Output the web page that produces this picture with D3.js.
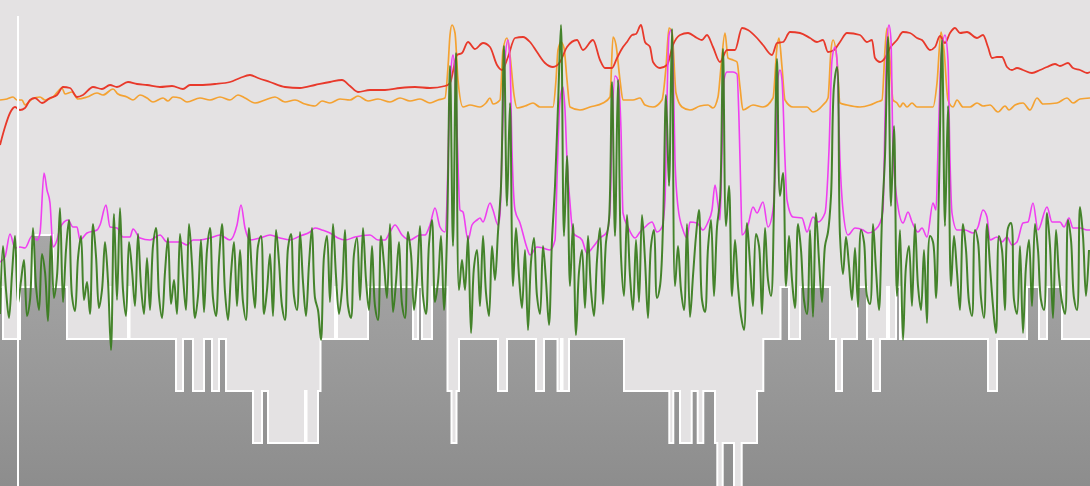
<!DOCTYPE html>
<html>
<head>
<meta charset="utf-8">
<script src="https://cdn.jsdelivr.net/npm/d3@7"></script>
<style>
body{margin:0;background:#e4e2e3;overflow:hidden;}
svg{display:block;}
</style>
</head>
<body>
<div id="chart"></div>
<script>

// hypnogram: start time of each stage, and its depth (0 = top, 5 = deepest)
var stageTimes  = [0,3,20,33,53,67,110,111.5,128,129.5,176,183,193,204,212,219,226,253,262,268,305,306.5,318,320.5,335,337,368,413,418,422,432,447.5,451.5,456.5,459,498,507,536,544,557.5,561,562.5,569,624,669.3,673.3,680,691.7,697.7,703.3,715,717.3,722.7,734,741.7,757,763.3,780.5,789,800,830,836,842,857,867,873,880,887,889,896,900,988,997,1027,1039,1047,1062,1090];
var stageLevels = [1,2,1,0,1,2,1,2,1,2,3,2,3,2,3,2,3,4,3,4,3,4,3,2,1,2,1,2,1,2,1,3,4,3,2,3,2,3,2,3,2,3,2,3,4,3,4,3,4,3,4,5,4,5,4,3,2,1,2,1,2,3,2,1,2,3,2,1,2,1,2,3,2,1,2,1,2,2];

// red trace [time, value]
var redData = [[0,341],[5,359],[10,373],[15,379],[20,376],[25,378],[30,386],[35,388],[42,383],[50,388],[57,391],[63,399],[70,398],[77,389],[83,391],[93,399],[102,397],[110,401],[117,399],[128,404],[137,402],[147,401],[160,399],[172,400],[183,397],[190,401],[200,401],[215,402],[230,404],[240,408],[250,411],[258,408],[270,404],[285,399],[300,398],[315,401],[330,404],[342,406],[350,400],[358,394],[370,396],[385,396],[400,398],[415,399],[430,398],[445,400],[450,403],[457,431],[462,433],[468,444],[475,437],[483,443],[490,439],[497,421],[502,416],[508,429],[515,448],[523,449],[530,444],[537,434],[545,423],[553,419],[560,424],[567,439],[577,446],[583,436],[593,446],[600,426],[605,418],[612,418],[617,428],[623,439],[627,444],[632,451],[636,452],[641,461],[645,444],[650,439],[653,424],[660,418],[667,421],[673,441],[680,451],[688,453],[697,448],[702,446],[707,451],[713,439],[720,424],[727,436],[735,436],[742,458],[748,456],[757,448],[763,441],[772,431],[777,443],[783,444],[790,454],[800,453],[810,448],[817,444],[823,446],[828,434],[834,436],[840,444],[847,453],[860,451],[867,444],[872,446],[875,428],[880,424],[885,428],[890,438],[897,446],[903,454],[910,453],[917,448],[922,446],[930,436],[935,439],[940,450],[945,443],[950,453],[955,458],[960,453],[967,454],[977,448],[983,451],[988,439],[992,428],[997,429],[1002,429],[1007,419],[1012,416],[1017,418],[1023,416],[1032,413],[1040,416],[1047,419],[1055,422],[1060,420],[1068,423],[1073,418],[1080,416],[1087,413],[1090,414]];

// orange trace [time, value]
var orangeData = [[0,386],[7,387],[13,389],[17,386],[22,386],[25,381],[32,387],[40,389],[45,386],[53,389],[62,398],[65,392],[72,394],[78,387],[87,389],[97,393],[103,391],[113,397],[118,392],[127,389],[133,386],[140,391],[147,388],[153,384],[163,388],[168,385],[173,389],[180,388],[187,384],[200,388],[210,386],[220,389],[230,386],[238,391],[245,388],[255,383],[265,386],[275,389],[285,384],[295,386],[305,382],[315,380],[322,385],[330,383],[340,387],[350,386],[358,390],[368,385],[378,387],[390,384],[400,388],[410,385],[420,387],[430,383],[438,386],[445,388],[448,419],[450,451],[452,461],[455,453],[458,406],[463,379],[470,381],[480,379],[486,383],[490,388],[493,382],[500,386],[503,436],[507,448],[510,431],[514,391],[517,378],[525,380],[533,383],[540,379],[553,379],[556,406],[558,436],[561,444],[564,438],[567,406],[570,379],[580,376],[590,379],[603,383],[610,389],[613,449],[616,441],[620,406],[623,386],[633,386],[640,388],[645,381],[653,379],[662,386],[666,419],[669,458],[672,454],[676,393],[682,379],[690,376],[700,380],[708,381],[713,378],[718,389],[721,419],[725,453],[728,428],[733,426],[737,424],[740,399],[743,376],[753,381],[763,379],[773,388],[777,439],[779,448],[782,419],[785,386],[793,379],[807,379],[813,374],[823,381],[828,388],[831,436],[833,446],[837,426],[840,383],[847,381],[860,379],[870,381],[877,384],[882,386],[885,436],[887,458],[890,426],[893,386],[897,383],[900,379],[903,383],[907,379],[912,383],[917,379],[933,379],[937,403],[941,454],[944,436],[948,386],[953,379],[957,386],[963,379],[970,379],[977,383],[983,380],[990,381],[998,374],[1005,380],[1009,376],[1015,381],[1023,383],[1030,376],[1037,388],[1043,382],[1057,383],[1067,388],[1073,383],[1080,387],[1090,388]];

// magenta trace [time, value]
var magentaData = [[0,224],[5,229],[10,252],[15,238],[20,239],[25,238],[32,250],[37,246],[40,253],[44,313],[47,296],[50,283],[53,239],[57,246],[60,258],[68,266],[73,259],[77,259],[80,246],[87,253],[97,256],[100,261],[106,281],[110,259],[117,258],[123,249],[130,249],[133,257],[140,248],[150,246],[160,251],[167,244],[180,244],[187,241],[193,246],[200,246],[210,248],[220,251],[230,246],[237,261],[241,281],[245,258],[250,246],[260,248],[270,251],[280,248],[290,246],[300,250],[310,254],[315,258],[322,256],[330,253],[338,248],[345,246],[355,249],[370,251],[378,246],[385,246],[390,254],[395,261],[402,251],[410,246],[420,251],[425,251],[430,261],[435,278],[440,259],[445,254],[447,286],[449,366],[451,416],[453,431],[455,411],[457,356],[460,276],[463,274],[468,246],[472,261],[477,266],[480,268],[483,264],[490,283],[493,276],[498,261],[500,271],[502,336],[505,426],[508,446],[510,426],[512,336],[515,276],[520,263],[527,238],[530,231],[537,239],[543,238],[550,236],[555,246],[557,306],[560,386],[563,399],[565,376],[567,326],[570,283],[573,253],[582,246],[587,233],[593,239],[600,248],[607,254],[610,276],[612,356],[615,410],[618,406],[621,356],[623,273],[628,259],[635,248],[640,254],[645,259],[652,264],[657,254],[662,259],[665,286],[667,386],[669,451],[671,456],[673,426],[675,326],[678,279],[683,256],[687,248],[690,264],[697,263],[703,256],[708,264],[712,276],[715,301],[718,281],[720,266],[722,336],[724,406],[727,414],[733,414],[737,412],[739,366],[741,286],[742,251],[748,261],[753,279],[757,273],[763,284],[768,259],[773,276],[776,336],[778,408],[780,416],[782,406],[785,326],[787,286],[793,269],[802,268],[807,254],[813,269],[818,264],[825,273],[829,336],[832,426],[835,439],[837,426],[840,326],[843,276],[848,251],[855,258],[863,256],[868,253],[875,256],[880,263],[883,276],[885,366],[887,446],[889,461],[891,446],[893,336],[898,279],[903,263],[908,274],[912,264],[918,254],[922,258],[927,249],[933,283],[936,276],[938,336],[941,426],[945,451],[948,426],[950,326],[952,273],[957,256],[965,256],[973,253],[978,259],[983,276],[987,269],[990,246],[997,249],[1002,244],[1007,249],[1012,241],[1017,244],[1023,263],[1028,264],[1033,283],[1038,256],[1047,279],[1052,264],[1060,264],[1064,259],[1069,268],[1073,258],[1080,258],[1087,256],[1090,256]];

// green trace, one sample every greenStep time units
var greenStart = 0, greenStep = 3;
var greenValues = [
172,240,196,168,212,250,182,205,226,170,186,258,200,176,232,214,165,250,188,210,
278,184,236,266,190,175,228,250,186,204,172,262,230,178,196,244,205,136,272,186,
278,196,170,244,216,180,252,200,172,228,176,240,258,190,168,214,248,182,206,172,
252,210,176,262,222,168,190,246,174,236,258,188,170,226,262,194,166,212,244,180,
236,184,166,258,212,178,240,250,172,196,232,170,256,224,180,166,238,252,190,176,
254,204,170,222,258,188,176,146,230,250,184,262,210,172,196,256,180,168,232,248,
186,258,206,176,240,180,166,250,222,188,262,174,204,244,182,168,254,232,176,206,260,190,172,242,266,184,204,250,176,
250,
420,240,433,196,
226,196,250,153,219,236,180,250,193,170,240,206,254,
300,440,280,383,200,
258,210,178,236,156,224,248,190,172,240,205,161,246,
300,380,461,250,330,
200,262,151,214,236,178,250,196,170,226,258,182,244,266,
404,250,406,230,
190,271,210,176,246,184,271,226,168,240,256,188,200,
260,391,300,457,200,
240,196,176,262,169,210,250,276,186,174,238,266,190,259,
286,437,260,300,190,
246,200,170,156,263,222,180,252,240,172,258,206,190,
280,427,290,313,200,
250,206,178,262,236,186,172,256,169,273,226,184,240,254,
290,400,419,250,
212,249,220,186,238,179,256,244,190,182,262,216,176,268,
330,449,280,360,190,
256,146,220,240,180,262,200,176,236,163,250,244,188,300,
446,260,380,200,
250,214,176,262,236,184,170,256,244,188,168,262,220,180,153,250,236,176,258,263,
186,172,240,153,220,246,180,262,236,186,176,273,240,168,256,210,184,172,266,246,
188,176,279,250,190,236
];

// cursor position
var cursorTime = 18;

var width = 1090, height = 486;

var svg = d3.select("#chart").append("svg")
	.attr("width", width).attr("height", height);

svg.append("rect").attr("width", width).attr("height", height).attr("fill", "#e4e2e3");

var x = d3.scaleLinear().domain([0, 1090]).range([0, width]);
var y = d3.scaleLinear().domain([0, 486]).range([height, 0]);
var yStage = d3.scaleLinear().domain([0, 5]).range([235, 495]);

// gradient for the stage area
var grad = svg.append("defs").append("linearGradient")
	.attr("id", "stageGrad").attr("gradientUnits", "userSpaceOnUse")
	.attr("x1", 0).attr("x2", 0).attr("y1", 235).attr("y2", height);
grad.append("stop").attr("offset", "0%").attr("stop-color", "#a7a7a7");
grad.append("stop").attr("offset", "100%").attr("stop-color", "#8d8d8d");

var stages = stageTimes.map((t, i) => ({t: t, level: stageLevels[i]}));

var stageArea = d3.area()
	.curve(d3.curveStepAfter)
	.x(d => x(d.t))
	.y0(height + 20)
	.y1(d => yStage(d.level));

var stageLine = d3.line()
	.curve(d3.curveStepAfter)
	.x(d => x(d.t))
	.y(d => yStage(d.level));

svg.append("path").datum(stages)
	.attr("d", stageArea)
	.attr("fill", "url(#stageGrad)");

svg.append("path").datum(stages)
	.attr("d", stageLine)
	.attr("fill", "none")
	.attr("stroke", "#ffffff")
	.attr("stroke-width", 2);

function trace(data, color, w, op, curve) {
	var line = d3.line()
		.curve(curve)
		.x(d => x(d[0]))
		.y(d => y(d[1]));
	svg.append("path").datum(data)
		.attr("d", line)
		.attr("fill", "none")
		.attr("stroke", color)
		.attr("stroke-width", w)
		.attr("stroke-opacity", op)
		.attr("stroke-linejoin", "round");
}

trace(orangeData, "#f4a232", 1.7, 1, d3.curveMonotoneX);
trace(redData, "#e8392b", 1.8, 1, d3.curveMonotoneX);
trace(magentaData, "#ef3ff0", 1.6, 1, d3.curveMonotoneX);

var greenData = greenValues.map((v, i) => [greenStart + i * greenStep, v]);
trace(greenData, "#367b1b", 2, 0.92, d3.curveCatmullRom.alpha(0.5));

// cursor
svg.append("line")
	.attr("x1", x(cursorTime)).attr("x2", x(cursorTime))
	.attr("y1", 16).attr("y2", height)
	.attr("stroke", "#ffffff").attr("stroke-width", 2);

</script>
</body>
</html>
